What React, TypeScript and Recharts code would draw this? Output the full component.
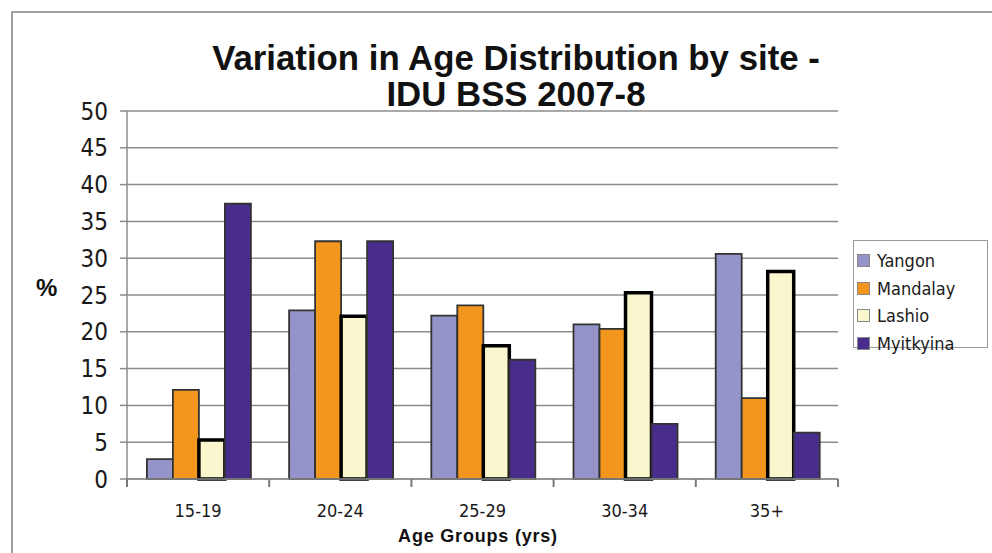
import React from "react";
import {
  BarChart,
  Bar,
  XAxis,
  YAxis,
  CartesianGrid,
  Legend,
} from "recharts";

// Age groups along the x axis
const ageGroups = ["15-19", "20-24", "25-29", "30-34", "35+"];

// Percentage of respondents per age group, by site
const yangon = [2.7, 22.9, 22.2, 21.0, 30.6];
const mandalay = [12.1, 32.3, 23.6, 20.4, 11.0];
const lashio = [5.3, 22.1, 18.1, 25.3, 28.2];
const myitkyina = [37.4, 32.3, 16.2, 7.5, 6.3];

const yTicks = [0, 5, 10, 15, 20, 25, 30, 35, 40, 45, 50];

const data = ageGroups.map((g, i) => ({
  group: g,
  Yangon: yangon[i],
  Mandalay: mandalay[i],
  Lashio: lashio[i],
  Myitkyina: myitkyina[i],
}));

const series = [
  { key: "Yangon", fill: "#9494C8", stroke: "#333333", sw: 1.8 },
  { key: "Mandalay", fill: "#F3961E", stroke: "#333333", sw: 1.8 },
  { key: "Lashio", fill: "#FAF6CD", stroke: "#000000", sw: 3.5 },
  { key: "Myitkyina", fill: "#492D8C", stroke: "#333333", sw: 1.8 },
];

const GRID = "#8c8c8c";
const TICK_FONT = '"DejaVu Sans Condensed", "DejaVu Sans", sans-serif';
const BOLD_FONT = '"Liberation Sans", Arial, sans-serif';
const LABEL_GAP = 25;
const EDGE_TICK = 8;

const CHART_W = 992;
const CHART_H = 553;
const MARGIN = { top: 111, right: 154, left: 67, bottom: 44 };
const Y_AXIS_W = 60;
const PLOT_W = CHART_W - MARGIN.left - MARGIN.right - Y_AXIS_W;
const HALF_BAND = PLOT_W / ageGroups.length / 2;

// Category label plus tick marks on the band edges
const GroupTick = (props: any) => {
  const { x, y, payload, index } = props;
  const axisY = y - LABEL_GAP;
  const isLast = index === ageGroups.length - 1;
  return (
    <g>
      <line
        x1={x - HALF_BAND}
        x2={x - HALF_BAND}
        y1={axisY}
        y2={axisY + EDGE_TICK}
        stroke="#7a7a7a"
        strokeWidth={2}
      />
      {isLast && (
        <line
          x1={x + HALF_BAND}
          x2={x + HALF_BAND}
          y1={axisY}
          y2={axisY + EDGE_TICK}
          stroke="#7a7a7a"
          strokeWidth={2}
        />
      )}
      <text
        x={x}
        y={y}
        dy="0.71em"
        textAnchor="middle"
        fontFamily={TICK_FONT}
        fontSize={18}
        fill="#1a1a1a"
      >
        {payload.value}
      </text>
    </g>
  );
};

const LegendBox = () => (
  <div
    style={{
      position: "absolute",
      left: 853,
      top: 240,
      width: 135,
      height: 108,
      border: "1.5px solid #9a9a9a",
      background: "#fff",
      boxSizing: "border-box",
      paddingTop: 6,
      paddingLeft: 3,
    }}
  >
    {series.map((s) => (
      <div
        key={s.key}
        style={{
          display: "flex",
          alignItems: "center",
          height: 27.5,
          fontFamily: TICK_FONT,
          fontSize: 18,
          color: "#1a1a1a",
        }}
      >
        <span
          style={{
            display: "inline-block",
            width: 11,
            height: 11,
            background: s.fill,
            border: "1px solid #888",
            marginRight: 7,
          }}
        />
        {s.key}
      </div>
    ))}
  </div>
);

export default function App() {
  return (
    <div
      style={{
        position: "absolute",
        left: 0,
        top: 0,
        width: CHART_W,
        height: CHART_H,
        background: "#fff",
        overflow: "hidden",
      }}
    >
      {/* outer frame */}
      <div
        style={{
          position: "absolute",
          left: 11,
          top: 11,
          width: 1000,
          height: 600,
          borderLeft: "2px solid #a0a0a0",
          borderTop: "2px solid #a0a0a0",
        }}
      />
      <div
        style={{
          position: "absolute",
          left: 0,
          width: 1032,
          top: 40,
          textAlign: "center",
          fontFamily: BOLD_FONT,
          fontWeight: "bold",
          fontSize: 34.8,
          lineHeight: "36px",
          color: "#111",
        }}
      >
        Variation in Age Distribution by site -
        <br />
        IDU BSS 2007-8
      </div>
      <div
        style={{
          position: "absolute",
          left: 36,
          top: 274,
          fontFamily: BOLD_FONT,
          fontWeight: "bold",
          fontSize: 24,
          color: "#111",
        }}
      >
        %
      </div>
      <div
        style={{
          position: "absolute",
          left: 378,
          width: 200,
          top: 526,
          textAlign: "center",
          fontFamily: BOLD_FONT,
          fontWeight: "bold",
          fontSize: 18,
          letterSpacing: 0.8,
          color: "#111",
        }}
      >
        Age Groups (yrs)
      </div>
      <div style={{ position: "absolute", left: 0, top: 0 }}>
        <BarChart
          width={CHART_W}
          height={CHART_H}
          data={data}
          margin={MARGIN}
          barCategoryGap="14%"
          barGap={0}
        >
          <CartesianGrid
            vertical={false}
            stroke={GRID}
            strokeWidth={1.5}
          />
          <XAxis
            dataKey="group"
            height={30}
            interval={0}
            tickLine={false}
            axisLine={{ stroke: GRID, strokeWidth: 1.5 }}
            tickSize={0}
            tickMargin={LABEL_GAP}
            tick={GroupTick}
          />
          <YAxis
            domain={[0, 50]}
            ticks={yTicks}
            width={Y_AXIS_W}
            tickSize={7}
            tickMargin={12}
            interval={0}
            tickLine={{ stroke: GRID, strokeWidth: 1.5 }}
            axisLine={{ stroke: GRID, strokeWidth: 1.5 }}
            tick={{ fontFamily: TICK_FONT, fontSize: 24, fill: "#1a1a1a" }}
          />
          <YAxis
            yAxisId="frame"
            orientation="right"
            domain={[0, 50]}
            width={0}
            tick={false}
            tickLine={false}
            axisLine={{ stroke: GRID, strokeWidth: 1.5 }}
          />
          {series.map((s) => (
            <Bar
              key={s.key}
              dataKey={s.key}
              fill={s.fill}
              stroke={s.stroke}
              strokeWidth={s.sw}
              isAnimationActive={false}
            />
          ))}
          <Legend content={() => null} />
        </BarChart>
      </div>
      <LegendBox />
    </div>
  );
}
